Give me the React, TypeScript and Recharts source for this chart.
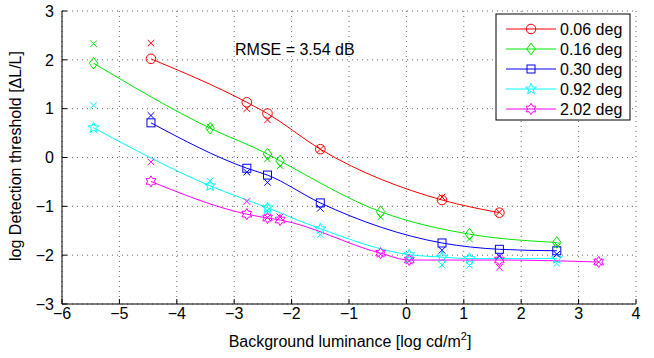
import { ComposedChart, Scatter, XAxis, YAxis, CartesianGrid } from 'recharts';

const xTicks = [-6, -5, -4, -3, -2, -1, 0, 1, 2, 3, 4];
const yTicks = [-3, -2, -1, 0, 1, 2, 3];

// 0.06 deg
const lum006 = [-4.45, -2.78, -2.42, -1.5, 0.62, 1.62];
const fit006 = [2.02, 1.13, 0.9, 0.17, -0.87, -1.13];
const obs006 = [2.34, 1.0, 0.77, 0.17, -0.81, -1.12];

// 0.16 deg
const lum016 = [-5.45, -3.42, -2.42, -2.2, -0.45, 1.1, 2.62];
const fit016 = [1.93, 0.6, 0.07, -0.07, -1.11, -1.57, -1.74];
const obs016 = [2.33, 0.62, -0.03, -0.17, -1.22, -1.67, -1.79];

// 0.30 deg
const lum030 = [-4.45, -2.78, -2.42, -1.5, 0.62, 1.62, 2.62];
const fit030 = [0.71, -0.22, -0.36, -0.93, -1.75, -1.88, -1.91];
const obs030 = [0.86, -0.3, -0.51, -1.04, -1.9, -2.02, -1.98];

// 0.92 deg
const lum092 = [-5.45, -3.42, -2.42, -1.5, 0.05, 0.62, 1.1, 2.62];
const fit092 = [0.61, -0.58, -1.03, -1.46, -1.99, -2.04, -2.07, -2.07];
const obs092 = [1.07, -0.48, -1.09, -1.58, -2.1, -2.2, -2.21, -2.17];

// 2.02 deg
const lum202 = [-4.45, -2.78, -2.42, -2.2, -0.45, 0.05, 1.62, 3.35];
const fit202 = [-0.49, -1.16, -1.24, -1.28, -1.96, -2.1, -2.1, -2.14];
const obs202 = [-0.09, -0.9, -1.23, -1.22, -1.98, -2.12, -2.25, -2.14];

const seriesNames = ['0.06 deg', '0.16 deg', '0.30 deg', '0.92 deg', '2.02 deg'];
const seriesColors = ['#ff0000', '#00e600', '#0000ff', '#00ffff', '#ff00ff'];
const seriesShapes = ['circle', 'diamond', 'square', 'pentagram', 'hexagram'];

const FONT = '"Liberation Sans", Arial, Helvetica, sans-serif';

const toPts = (xs: number[], ys: number[]) => xs.map((x, i) => ({ x, y: ys[i] }));

const series = [
  { lum: lum006, fit: fit006, obs: obs006 },
  { lum: lum016, fit: fit016, obs: obs016 },
  { lum: lum030, fit: fit030, obs: obs030 },
  { lum: lum092, fit: fit092, obs: obs092 },
  { lum: lum202, fit: fit202, obs: obs202 },
].map((s, i) => ({
  name: seriesNames[i],
  color: seriesColors[i],
  shape: seriesShapes[i],
  fitPts: toPts(s.lum, s.fit),
  obsPts: toPts(s.lum, s.obs),
}));

const starPoints = (cx: number, cy: number, n: number, ro: number, ri: number) => {
  const pts: string[] = [];
  for (let k = 0; k < n * 2; k++) {
    const r = k % 2 === 0 ? ro : ri;
    const a = -Math.PI / 2 + (k * Math.PI) / n;
    pts.push(`${cx + r * Math.cos(a)},${cy + r * Math.sin(a)}`);
  }
  return pts.join(' ');
};

const Marker = ({ cx, cy, shape, color }: { cx: number; cy: number; shape: string; color: string }) => {
  const p = { fill: 'none', stroke: color, strokeWidth: 1 };
  switch (shape) {
    case 'circle':
      return <circle cx={cx} cy={cy} r={4.8} {...p} />;
    case 'diamond':
      return <polygon points={`${cx},${cy - 5.8} ${cx + 4.3},${cy} ${cx},${cy + 5.8} ${cx - 4.3},${cy}`} {...p} />;
    case 'square':
      return <rect x={cx - 4} y={cy - 4} width={8} height={8} {...p} />;
    case 'pentagram':
      return <polygon points={starPoints(cx, cy, 5, 5.8, 2.4)} {...p} />;
    case 'hexagram':
      return <polygon points={starPoints(cx, cy, 6, 5.6, 3.3)} {...p} />;
    default:
      return (
        <g stroke={color} strokeWidth={1}>
          <line x1={cx - 3.3} y1={cy - 3.3} x2={cx + 3.3} y2={cy + 3.3} />
          <line x1={cx - 3.3} y1={cy + 3.3} x2={cx + 3.3} y2={cy - 3.3} />
        </g>
      );
  }
};

const fmt = (v: number) => String(v).replace('-', '\u2212');

const LegendBox = () => {
  const left = 496;
  const top = 14;
  return (
    <g fontFamily={FONT}>
      <rect x={left} y={top} width={134} height={106} fill="#fff" stroke="#000" strokeWidth={1} />
      {series.map((s, i) => {
        const y = top + 15 + i * 20;
        return (
          <g key={s.name}>
            <line x1={left + 10} x2={left + 60} y1={y} y2={y} stroke={s.color} strokeWidth={1} />
            <Marker cx={left + 35} cy={y} shape={s.shape} color={s.color} />
            <text x={left + 64} y={y + 5.5} fontSize={16} fill="#000">
              {s.name}
            </text>
          </g>
        );
      })}
    </g>
  );
};

export default function App() {
  return (
    <div style={{ width: 654, height: 358, background: '#fff' }}>
      <style>{'body{margin:0;}'}</style>
      <ComposedChart width={654} height={358} margin={{ top: 11, right: 18, bottom: 0, left: 0 }}>
        <CartesianGrid stroke="#666" strokeDasharray="1 4" />
        <XAxis
          dataKey="x"
          type="number"
          domain={[-6, 4]}
          ticks={xTicks}
          height={54}
          stroke="#000"
          tickSize={-5}
          tickMargin={9}
          tickFormatter={fmt}
          tick={{ fill: '#000', fontSize: 16, fontFamily: FONT }}
          allowDataOverflow
        />
        <XAxis
          xAxisId="top"
          orientation="top"
          type="number"
          domain={[-6, 4]}
          ticks={xTicks}
          height={0}
          stroke="#000"
          tickSize={-5}
          tick={false}
          allowDataOverflow
        />
        <YAxis
          dataKey="y"
          type="number"
          domain={[-3, 3]}
          ticks={yTicks}
          width={62}
          stroke="#000"
          tickSize={-5}
          tickMargin={13}
          tickFormatter={fmt}
          tick={{ fill: '#000', fontSize: 16, fontFamily: FONT }}
          allowDataOverflow
        />
        <YAxis
          yAxisId="right"
          orientation="right"
          type="number"
          domain={[-3, 3]}
          ticks={yTicks}
          width={0}
          stroke="#000"
          tickSize={-5}
          tick={false}
          allowDataOverflow
        />
        {series.map((s) => (
          <Scatter
            key={s.name + '-fit'}
            data={s.fitPts}
            line={{ stroke: s.color, strokeWidth: 1 }}
            lineJointType="monotoneX"
            isAnimationActive={false}
            shape={(props: any) => <Marker cx={props.cx} cy={props.cy} shape={s.shape} color={s.color} />}
          />
        ))}
        {series.map((s) => (
          <Scatter
            key={s.name + '-obs'}
            data={s.obsPts}
            isAnimationActive={false}
            shape={(props: any) => <Marker cx={props.cx} cy={props.cy} shape="x" color={s.color} />}
          />
        ))}
        <text x={235} y={55} fontSize={16} fontFamily={FONT} fill="#000">
          RMSE = 3.54 dB
        </text>
        <text
          x={21}
          y={156}
          transform="rotate(-90 21 156)"
          textAnchor="middle"
          fontSize={16}
          fontFamily={FONT}
          fill="#000"
        >
          log Detection threshold [ΔL/L]
        </text>
        <text x={350} y={347} textAnchor="middle" fontSize={16} fontFamily={FONT} fill="#000">
          Background luminance [log cd/m
          <tspan dy={-7} fontSize={11}>
            2
          </tspan>
          <tspan dy={7}>]</tspan>
        </text>
        <LegendBox />
      </ComposedChart>
    </div>
  );
}
